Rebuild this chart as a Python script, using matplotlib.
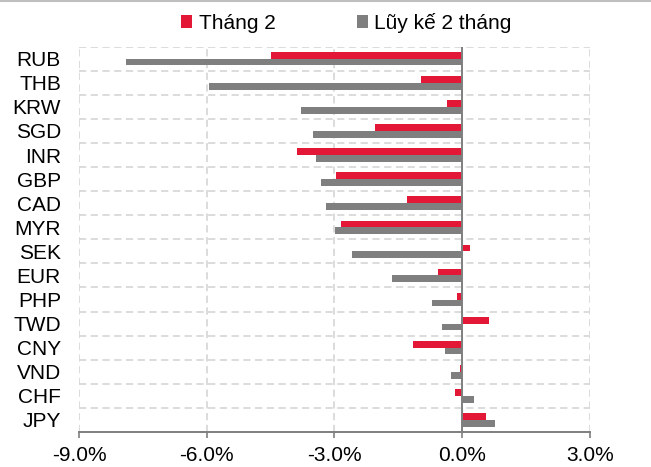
import numpy as np
import matplotlib
matplotlib.use("Agg")
import matplotlib.pyplot as plt
from matplotlib.lines import Line2D
from matplotlib.ticker import FixedLocator, FuncFormatter

plt.rcParams['font.family'] = ['Liberation Sans', 'DejaVu Sans']

# Data (% change)
currencies = ['RUB', 'THB', 'KRW', 'SGD', 'INR', 'GBP', 'CAD', 'MYR',
              'SEK', 'EUR', 'PHP', 'TWD', 'CNY', 'VND', 'CHF', 'JPY']
thang2 = [-4.50, -0.97, -0.36, -2.06, -3.88, -2.96, -1.29, -2.85,
          0.19, -0.57, -0.12, 0.64, -1.16, -0.06, -0.16, 0.55]
luy_ke = [-7.90, -5.94, -3.79, -3.51, -3.43, -3.32, -3.21, -2.98,
          -2.59, -1.65, -0.70, -0.47, -0.40, -0.27, 0.27, 0.78]
x_ticks = [-9, -6, -3, 0, 3]

RED = '#E31837'
GRAY = '#7F7F7F'
GRID = '#D9D9D9'

fig = plt.figure(figsize=(6.51, 4.67), dpi=100)
ax = fig.add_axes([0.1213, 0.075, 0.785, 0.825])

y = np.arange(len(currencies))
h = 0.28
ax.barh(y - h / 2, thang2, height=h, color=RED, label='Tháng 2', zorder=3)
ax.barh(y + h / 2, luy_ke, height=h, color=GRAY, label='Lũy kế 2 tháng', zorder=3)

ax.set_xlim(-9, 3)
ax.set_ylim(len(currencies) - 0.5, -0.5)

# Gridlines
ax.xaxis.set_major_locator(FixedLocator(x_ticks))
ax.xaxis.set_major_formatter(FuncFormatter(lambda v, _: f"{v:.1f}%"))
for xv in x_ticks:
    if xv != 0:
        ax.axvline(xv, color=GRID, lw=1.3, ls=(0, (4, 2.5)), zorder=1)
for yb in np.arange(-0.5, len(currencies), 1.0):
    ax.axhline(yb, color=GRID, lw=1.3, ls=(0, (4, 2.5)), zorder=1)
ax.axvline(0, color=GRAY, lw=1.4, zorder=4)

ax.set_yticks(y)
ax.set_yticklabels(currencies)

for s in ['top', 'right', 'left']:
    ax.spines[s].set_visible(False)
ax.spines['bottom'].set_color(GRAY)
ax.spines['bottom'].set_linewidth(1.4)
ax.spines['bottom'].set_zorder(4)

ax.tick_params(axis='y', length=0, pad=13, labelsize=15, colors='black')
ax.tick_params(axis='x', length=4, width=1.2, color=GRAY, pad=6,
               labelsize=15, labelcolor='black')

fig.legend(loc='center', bbox_to_anchor=(0.532, 0.951), ncol=2,
           frameon=False, fontsize=15, handlelength=0.55, handleheight=0.55,
           handletextpad=0.3, columnspacing=3.9, borderaxespad=0)

# thin border line at top of the screenshot
fig.add_artist(Line2D([0, 1], [0.998, 0.998], color='#BFBFBF', lw=1.5,
                      transform=fig.transFigure))

fig.savefig('out.png', dpi=100)
